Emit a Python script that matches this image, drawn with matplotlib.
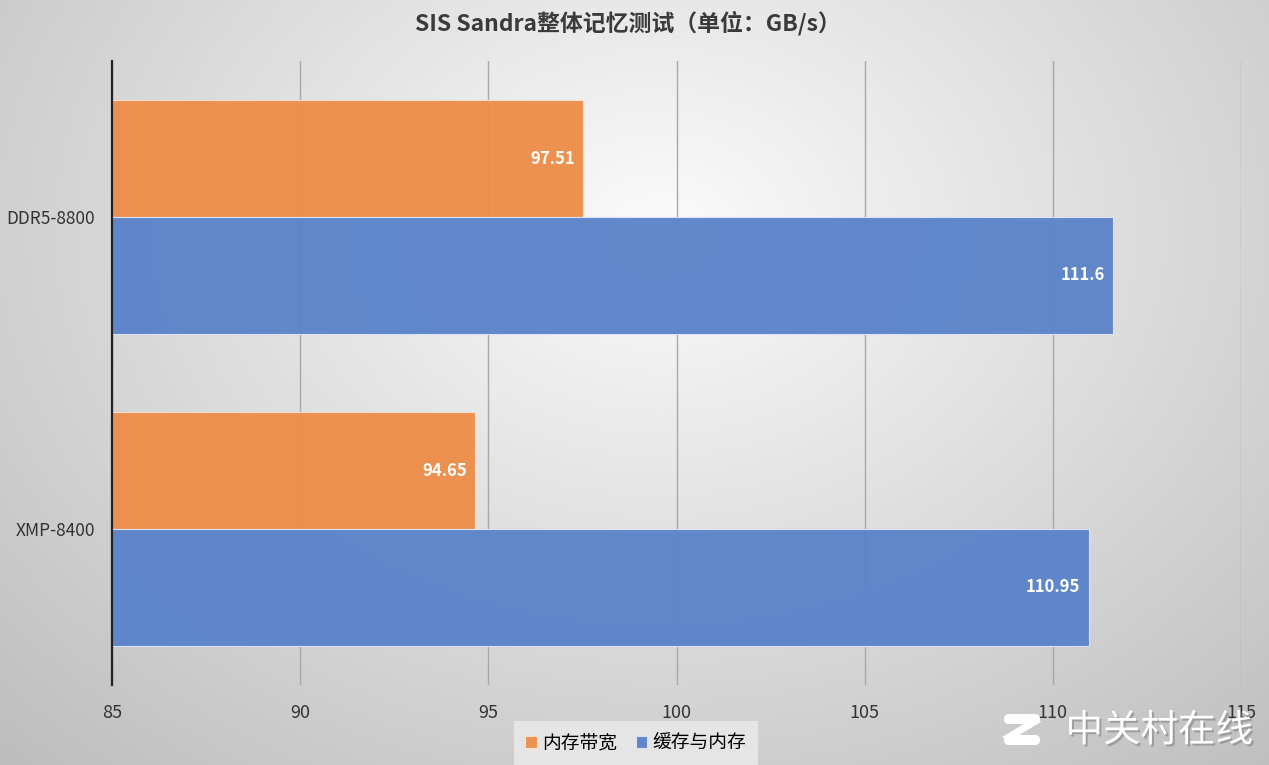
import matplotlib.pyplot as plt
import matplotlib.patheffects as pe
from matplotlib.patches import FancyBboxPatch
import numpy as np

plt.rcParams['font.family'] = ['Noto Sans CJK SC', 'DejaVu Sans']

# data
categories = ['DDR5-8800', 'XMP-8400']
series_names = ['内存带宽', '缓存与内存']
mem_bw = [97.51, 94.65]
cache_mem = [111.6, 110.95]
xticks = [85, 90, 95, 100, 105, 110, 115]

colors = ['#ED8E4B', '#5B84CA']

W, H = 1269, 765
fig = plt.figure(figsize=(W / 100, H / 100), dpi=100)

# radial gradient background
bg = fig.add_axes([0, 0, 1, 1], zorder=0)
yy, xx = np.mgrid[0:H, 0:W]
d = np.sqrt(((xx - 660) / 900.0) ** 2 + ((yy - 230) / 700.0) ** 2)
shade = 0.985 - 0.23 * np.clip(d, 0, 1.3)
bg.imshow(np.dstack([shade] * 3), extent=[0, W, H, 0], aspect='auto')
bg.set_axis_off()

# plot area in pixels: x 112..1241, y 61..685
ax = fig.add_axes([112 / W, 1 - 685 / H, (1241 - 112) / W, (685 - 61) / H], zorder=1)
ax.patch.set_alpha(0)

bar_h = 0.375
ypos = np.arange(len(categories))
b1 = ax.barh(ypos - bar_h / 2, np.array(mem_bw) - 85, left=85, height=bar_h,
             color=colors[0], edgecolor='#FBE3D0', linewidth=0.8, label=series_names[0],
             alpha=0.97, zorder=2)
b2 = ax.barh(ypos + bar_h / 2, np.array(cache_mem) - 85, left=85, height=bar_h,
             color=colors[1], edgecolor='#DDE4F2', linewidth=0.8, label=series_names[1],
             alpha=0.97, zorder=2)

for bars, vals in [(b1, mem_bw), (b2, cache_mem)]:
    for rect, v in zip(bars, vals):
        ax.text(v - 0.22, rect.get_y() + rect.get_height() / 2, f'{v:g}',
                ha='right', va='center', color='white', fontsize=12,
                fontweight='bold', zorder=3)

ax.set_xlim(85, 115)
ax.set_ylim(1.5, -0.5)
ax.set_xticks(xticks)
ax.set_xticklabels([str(t) for t in xticks])
ax.set_yticks(ypos)
ax.set_yticklabels(categories)
ax.grid(axis='x', color='#A8A8A8', linewidth=1.0, zorder=1)
ax.set_axisbelow(True)
for s in ['top', 'right', 'bottom']:
    ax.spines[s].set_visible(False)
ax.spines['left'].set_color('#222222')
ax.spines['left'].set_linewidth(1.6)
ax.tick_params(axis='x', length=0, pad=14, labelsize=13, labelcolor='#333333')
ax.tick_params(axis='y', length=0, pad=12, labelsize=12.5, labelcolor='#333333')

fig.text(628 / W, 1 - 23 / H, 'SIS Sandra整体记忆测试（单位：GB/s）', ha='center', va='center',
         fontsize=16.5, fontweight='bold', color='#3A3A3A')

leg = fig.legend(handles=[b1, b2], labels=series_names, loc='center',
                 bbox_to_anchor=(636 / W, 1 - 743 / H), ncol=2, frameon=True,
                 fontsize=13.5, handlelength=0.6, handleheight=0.6, handletextpad=0.3,
                 columnspacing=1.0, borderpad=0.3)
leg.get_frame().set_facecolor('#E8E8E8')
leg.get_frame().set_edgecolor('none')
leg.get_frame().set_alpha(0.9)
leg.get_frame().set_boxstyle('square')

# watermark
shadow = [pe.withSimplePatchShadow(offset=(1.5, -1.5), shadow_rgbFace='#777777', alpha=0.5)]
fig.text(1253 / W, 1 - 731 / H, '中关村在线', ha='right', va='center', fontsize=27,
         color='white', path_effects=shadow, zorder=5)
wm = fig.add_axes([1002 / W, 1 - 748 / H, 40 / W, 38 / H], zorder=5)
wm.set_xlim(0, 40)
wm.set_ylim(0, 38)
wm.set_axis_off()
for y0 in (3, 24):
    wm.add_patch(FancyBboxPatch((2, y0), 36, 10, boxstyle='round,pad=0,rounding_size=5',
                                facecolor='white', edgecolor='none'))
wm.add_patch(plt.Polygon([[12, 13], [30, 24], [27, 24], [9, 13]], closed=True,
                         facecolor='white', edgecolor='white', linewidth=4))

fig.savefig('out.png', dpi=100)
